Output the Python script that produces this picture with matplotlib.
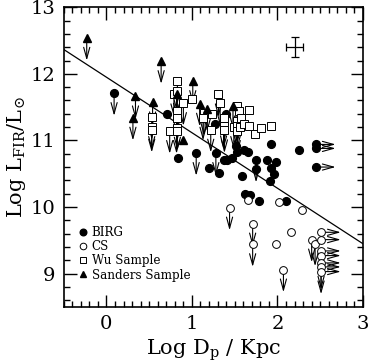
import matplotlib
matplotlib.use("Agg")
import matplotlib.pyplot as plt
import numpy as np

plt.rcParams['font.family'] = ['DejaVu Serif']
plt.rcParams['mathtext.fontset'] = 'dejavuserif'

# BIRG sample (filled circles); flag: u = upper limit (down arrow), r = lower limit in x (right arrow)
birg_x = [0.09, 0.71, 0.84, 1.05, 1.20, 1.27, 1.28, 1.32, 1.40, 1.37, 1.41, 1.47, 1.51,
          1.53, 1.58, 1.61, 1.66, 1.62, 1.68, 1.75, 1.75, 1.79, 1.88, 1.92, 1.92, 1.96,
          1.98, 1.91, 2.10, 2.25, 2.45, 2.45, 2.45]
birg_y = [11.71, 11.40, 10.74, 10.81, 10.59, 11.24, 10.81, 10.51, 11.39, 10.71, 10.70, 10.74, 10.91,
          10.83, 10.46, 10.85, 10.83, 10.20, 10.18, 10.71, 10.57, 10.09, 10.71, 10.94, 10.59, 10.50,
          10.67, 10.39, 10.09, 10.86, 10.94, 10.88, 10.60]
birg_f = ['u', '', '', 'u', '', '', 'u', '', '', '', '', '', '',
          '', '', '', '', '', '', 'u', '', '', '', '', '', '',
          '', '', '', '', 'r', 'r', 'r']

# CS sample (open circles)
cs_x = [1.44, 1.66, 1.71, 1.71, 2.02, 1.98, 2.16, 2.29, 2.07, 2.40, 2.44,
        2.51, 2.51, 2.51, 2.51, 2.51, 2.51, 2.51]
cs_y = [9.99, 10.10, 9.75, 9.44, 10.07, 9.45, 9.62, 9.96, 9.06, 9.51, 9.45,
        9.62, 9.51, 9.34, 9.27, 9.16, 9.10, 9.03]
cs_f = ['u', '', 'u', 'u', '', '', '', '', 'u', 'u', 'u',
        'r', 'r', 'r', 'r', 'r', 'ur', 'ur']

# Wu sample (open squares)
wu_x = [0.53, 0.53, 0.53, 0.74, 0.79, 0.83, 0.83, 0.82, 0.83, 0.83, 0.82, 0.90, 1.00,
        1.14, 1.13, 1.23, 1.22, 1.31, 1.33, 1.38, 1.37, 1.38, 1.49, 1.53, 1.55, 1.53,
        1.53, 1.53, 1.56, 1.57, 1.61, 1.67, 1.67, 1.74, 1.81, 1.92]
wu_y = [11.35, 11.20, 11.16, 11.14, 11.69, 11.89, 11.74, 11.44, 11.34, 11.19, 11.14, 11.56, 11.62,
        11.41, 11.34, 11.40, 11.16, 11.69, 11.56, 11.34, 11.21, 11.15, 11.20, 11.51, 11.44, 11.29,
        11.21, 11.14, 11.20, 11.34, 11.24, 11.45, 11.22, 11.10, 11.19, 11.21]
wu_f = ['u', 'u', 'u', 'u', 'u', 'u', 'u', 'u', 'u', 'u', 'u', 'u', '',
        'u', 'u', '', 'u', 'u', 'u', 'u', 'u', 'u', 'u', 'u', 'u', 'u',
        'u', 'u', '', '', '', '', '', '', '', '']

# Sanders sample (filled triangles)
san_x = [-0.23, 0.34, 0.31, 0.54, 0.64, 0.82, 1.01, 1.09, 1.18, 0.89, 1.48]
san_y = [12.54, 11.66, 11.34, 11.57, 12.19, 11.70, 11.89, 11.55, 11.47, 11.01, 11.51]
san_f = ['u', 'u', 'u', 'u', 'u', 'u', 'u', 'u', 'u', '', 'u']

# fitted relation
fit_x = [-0.5, 3.0]
fit_a, fit_b = 11.95, -0.834

# typical error bar
err_x, err_y, err_dx, err_dy = 2.2, 12.4, 0.1, 0.15

down_len = 0.34
right_len = 0.23

fig = plt.figure(figsize=(3.7, 3.64), dpi=100)
ax = fig.add_axes([0.172, 0.157, 0.809, 0.823])

arrow_kw = dict(arrowstyle='->,head_length=0.8,head_width=0.22', lw=0.8, color='k',
                shrinkA=0, shrinkB=0)


def draw_arrows(xs, ys, flags):
    for x, y, f in zip(xs, ys, flags):
        if 'u' in f:
            ax.annotate('', xy=(x, y - down_len), xytext=(x, y), arrowprops=arrow_kw, zorder=2)
        if 'r' in f:
            ax.annotate('', xy=(x + right_len, y), xytext=(x, y), arrowprops=arrow_kw, zorder=2)


for xs, ys, fs in [(birg_x, birg_y, birg_f), (cs_x, cs_y, cs_f),
                   (wu_x, wu_y, wu_f), (san_x, san_y, san_f)]:
    draw_arrows(xs, ys, fs)

ax.plot(fit_x, [fit_a + fit_b * v for v in fit_x], color='k', lw=0.9, zorder=1)

h1, = ax.plot(birg_x, birg_y, 'o', ms=5.6, color='k', mec='k', ls='none', zorder=3, label='BIRG')
h2, = ax.plot(cs_x, cs_y, 'o', ms=5.6, mfc='white', mec='k', mew=0.7, ls='none', zorder=3, label='CS')
h3, = ax.plot(wu_x, wu_y, 's', ms=5.4, mfc='white', mec='k', mew=0.7, ls='none', zorder=3, label='Wu Sample')
h4, = ax.plot(san_x, san_y, '^', ms=5.6, color='k', ls='none', zorder=3, label='Sanders Sample')

ax.errorbar([err_x], [err_y], xerr=err_dx, yerr=err_dy, fmt='none', ecolor='k',
            elinewidth=0.9, capsize=3, capthick=0.9)

ax.set_xlim(-0.5, 3)
ax.set_ylim(8.5, 13)
ax.set_xticks([0, 1, 2, 3])
ax.set_yticks([9, 10, 11, 12, 13])
ax.set_xticks(np.arange(-0.5, 3.01, 0.1), minor=True)
ax.set_yticks(np.arange(8.6, 13.0, 0.2), minor=True)
ax.tick_params(which='both', direction='in', top=True, right=True, labelsize=14, width=1)
ax.tick_params(which='major', length=9, pad=6)
ax.tick_params(which='minor', length=4)
for s in ax.spines.values():
    s.set_linewidth(1.2)

ax.set_xlabel(r'Log D$_{\rm p}$ / Kpc', fontsize=15, labelpad=3)
ax.set_ylabel(r'Log L$_{\rm FIR}$/L$_{\odot}$', fontsize=15, labelpad=2)

ax.legend(handles=[h1, h2, h3, h4], loc='upper left', bbox_to_anchor=(0.03, 0.29),
          frameon=False, fontsize=8.6, handlelength=0.8, handletextpad=0.3,
          labelspacing=0.1, borderpad=0, markerscale=0.85)

fig.savefig('out.png', dpi=100)
